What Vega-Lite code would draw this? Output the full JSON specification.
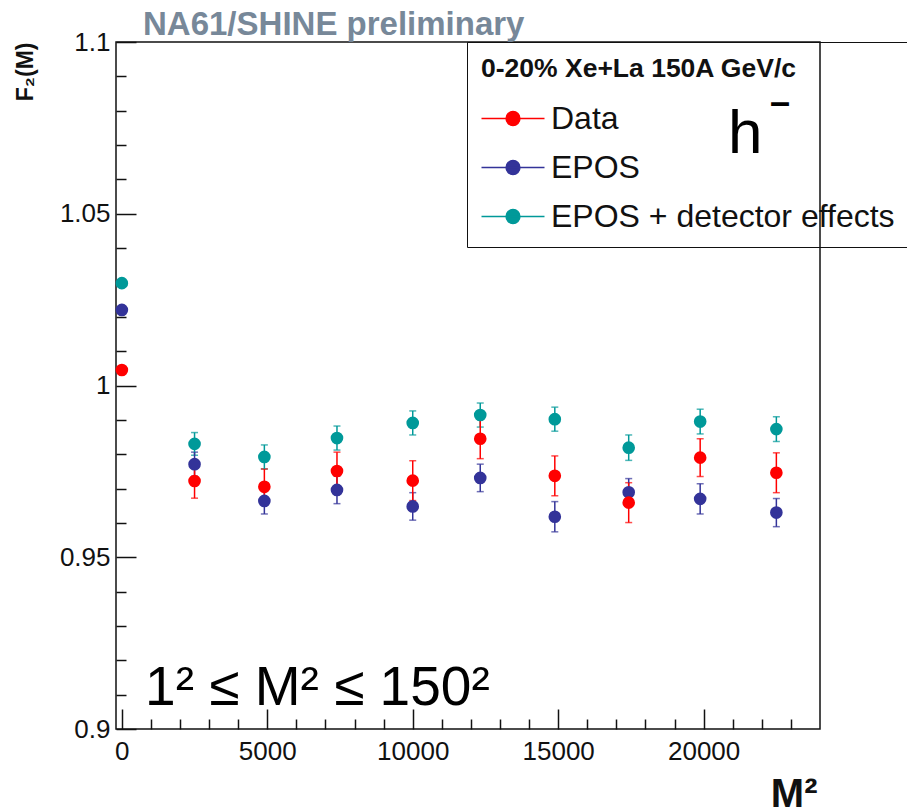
{
  "$schema": "https://vega.github.io/schema/vega-lite/v6.json",
  "width": 704,
  "height": 687,
  "autosize": {"type": "none"},
  "padding": {"left": 116, "top": 42, "right": 87, "bottom": 83},
  "background": "white",
  "title": {
    "text": "NA61/SHINE preliminary",
    "anchor": "start",
    "frame": "group",
    "dx": 27,
    "offset": -39,
    "baseline": "alphabetic",
    "font": "Liberation Sans",
    "fontSize": 33,
    "fontWeight": "bold",
    "color": "#778899"
  },
  "config": {
    "font": "Liberation Sans",
    "view": {"stroke": "#111111", "strokeWidth": 1.5},
    "axis": {
      "grid": false,
      "domain": false,
      "tickColor": "#111111",
      "tickWidth": 1.5,
      "labelColor": "#111111",
      "labelFlush": false,
      "labelOverlap": false,
      "labelBound": false
    }
  },
  "datasets": {
    "pts": [
      {"series": "EPOS + detector effects", "M2": 1, "F2": 1.0298, "err": 0},
      {"series": "EPOS + detector effects", "M2": 2500, "F2": 0.983, "err": 0.0033},
      {"series": "EPOS + detector effects", "M2": 4900, "F2": 0.9792, "err": 0.0035},
      {"series": "EPOS + detector effects", "M2": 7396, "F2": 0.9847, "err": 0.0035},
      {"series": "EPOS + detector effects", "M2": 10000, "F2": 0.9891, "err": 0.0035},
      {"series": "EPOS + detector effects", "M2": 12321, "F2": 0.9914, "err": 0.0035},
      {"series": "EPOS + detector effects", "M2": 14884, "F2": 0.9902, "err": 0.0035},
      {"series": "EPOS + detector effects", "M2": 17424, "F2": 0.9819, "err": 0.0037},
      {"series": "EPOS + detector effects", "M2": 19881, "F2": 0.9895, "err": 0.0036},
      {"series": "EPOS + detector effects", "M2": 22500, "F2": 0.9873, "err": 0.0036},
      {"series": "EPOS", "M2": 1, "F2": 1.022, "err": 0},
      {"series": "EPOS", "M2": 2500, "F2": 0.9771, "err": 0.0035},
      {"series": "EPOS", "M2": 4900, "F2": 0.9664, "err": 0.0038},
      {"series": "EPOS", "M2": 7396, "F2": 0.9696, "err": 0.004},
      {"series": "EPOS", "M2": 10000, "F2": 0.9648, "err": 0.004},
      {"series": "EPOS", "M2": 12321, "F2": 0.9731, "err": 0.004},
      {"series": "EPOS", "M2": 14884, "F2": 0.9618, "err": 0.0044},
      {"series": "EPOS", "M2": 17424, "F2": 0.9689, "err": 0.004},
      {"series": "EPOS", "M2": 19881, "F2": 0.967, "err": 0.0044},
      {"series": "EPOS", "M2": 22500, "F2": 0.963, "err": 0.0041},
      {"series": "Data", "M2": 1, "F2": 1.0045, "err": 0},
      {"series": "Data", "M2": 2500, "F2": 0.9722, "err": 0.005},
      {"series": "Data", "M2": 4900, "F2": 0.9705, "err": 0.0052},
      {"series": "Data", "M2": 7396, "F2": 0.9751, "err": 0.0055},
      {"series": "Data", "M2": 10000, "F2": 0.9723, "err": 0.0058},
      {"series": "Data", "M2": 12321, "F2": 0.9845, "err": 0.0058},
      {"series": "Data", "M2": 14884, "F2": 0.9737, "err": 0.0058},
      {"series": "Data", "M2": 17424, "F2": 0.9659, "err": 0.0058},
      {"series": "Data", "M2": 19881, "F2": 0.979, "err": 0.0055},
      {"series": "Data", "M2": 22500, "F2": 0.9746, "err": 0.0058}
    ]
  },
  "layer": [
    {
      "data": {"name": "pts"},
      "mark": {"type": "errorbar", "ticks": {"size": 7, "thickness": 1.5}, "thickness": 1.5},
      "encoding": {
        "x": {
          "field": "M2", "type": "quantitative",
          "scale": {"domain": [-200, 24000], "nice": false, "zero": false},
          "axis": {
            "orient": "bottom",
            "values": [1000, 2000, 3000, 4000, 6000, 7000, 8000, 9000, 11000, 12000, 13000, 14000, 16000, 17000, 18000, 19000, 21000, 22000, 23000],
            "labels": false,
            "tickSize": -10,
            "title": null
          }
        },
        "y": {
          "field": "F2", "type": "quantitative",
          "scale": {"domain": [0.9, 1.1], "nice": false, "zero": false},
          "axis": {
            "orient": "left",
            "values": [0.91, 0.92, 0.93, 0.94, 0.96, 0.97, 0.98, 0.99, 1.01, 1.02, 1.03, 1.04, 1.06, 1.07, 1.08, 1.09],
            "labels": false,
            "tickSize": -10,
            "title": null
          }
        },
        "yError": {"field": "err"},
        "color": {
          "field": "series", "type": "nominal",
          "scale": {"domain": ["Data", "EPOS", "EPOS + detector effects"], "range": ["#ff0000", "#333399", "#009999"]}
        }
      }
    },
    {
      "data": {"name": "pts"},
      "mark": {"type": "point", "filled": true, "size": 160, "opacity": 1, "shape": "circle"},
      "encoding": {
        "x": {
          "field": "M2", "type": "quantitative",
          "axis": {
            "orient": "bottom",
            "values": [0, 5000, 10000, 15000, 20000],
            "format": "d",
            "tickSize": -20,
            "labelPadding": 29,
            "labelFontSize": 26,
            "title": "M²",
            "titleFontSize": 40,
            "titleFontWeight": "bold",
            "titleColor": "#111111",
            "titleAlign": "right",
            "titleAnchor": "end",
            "titleBaseline": "alphabetic",
            "titleX": 701,
            "titleY": 77
          }
        },
        "y": {
          "field": "F2", "type": "quantitative",
          "axis": {
            "orient": "left",
            "values": [0.9, 0.95, 1, 1.05, 1.1],
            "format": "~g",
            "tickSize": -20,
            "labelPadding": 26,
            "labelFontSize": 26,
            "title": "F₂(M)",
            "titleFontSize": 23,
            "titleFontWeight": "bold",
            "titleColor": "#111111",
            "titleAngle": -90,
            "titleAlign": "right",
            "titleAnchor": "end",
            "titleBaseline": "middle",
            "titleX": -91,
            "titleY": 0
          }
        },
        "color": {
          "field": "series", "type": "nominal",
          "legend": {
            "orient": "none",
            "legendX": 351,
            "legendY": 0,
            "title": "0-20% Xe+La 150A GeV/c",
            "titleFont": "Liberation Sans",
            "titleFontSize": 26.5,
            "titleFontWeight": "bold",
            "titleColor": "#111111",
            "titleLimit": 600,
            "titlePadding": 20,
            "labelFont": "Liberation Sans",
            "labelFontSize": 32,
            "labelColor": "#111111",
            "labelLimit": 600,
            "labelOffset": 22,
            "symbolType": "M-4.5,0H4.5M1,0A1,1,0,1,1,-1,0A1,1,0,1,1,1,0Z",
            "symbolSize": 196,
            "symbolOffset": 16,
            "symbolStrokeWidth": 1.3,
            "symbolOpacity": 1,
            "rowPadding": 17,
            "padding": 14,
            "strokeColor": "#111111",
            "encode": {
              "symbols": {
                "update": {
                  "fill": {"scale": "color", "field": "value"},
                  "stroke": {"scale": "color", "field": "value"},
                  "opacity": {"value": 1},
                  "fillOpacity": {"value": 1},
                  "strokeOpacity": {"value": 1}
                }
              }
            }
          }
        }
      }
    },
    {
      "data": {"values": [{}]},
      "mark": {"type": "text", "text": "1² ≤ M² ≤ 150²", "align": "left", "baseline": "alphabetic", "fontSize": 55, "font": "Liberation Sans", "color": "#000000"},
      "encoding": {
        "x": {"datum": 800, "type": "quantitative", "axis": null},
        "y": {"datum": 0.907, "type": "quantitative", "axis": null}
      }
    },
    {
      "data": {"values": [{}]},
      "mark": {"type": "text", "text": "h", "align": "left", "baseline": "alphabetic", "fontSize": 62, "font": "Liberation Sans", "color": "#000000"},
      "encoding": {
        "x": {"datum": 20837, "type": "quantitative", "axis": null},
        "y": {"datum": 1.0677, "type": "quantitative", "axis": null}
      }
    },
    {
      "data": {"values": [{}]},
      "mark": {"type": "text", "text": "–", "align": "center", "baseline": "alphabetic", "fontSize": 36, "fontWeight": "bold", "font": "Liberation Sans", "color": "#000000"},
      "encoding": {
        "x": {"datum": 22625, "type": "quantitative", "axis": null},
        "y": {"datum": 1.079, "type": "quantitative", "axis": null}
      }
    }
  ],
  "resolve": {"axis": {"x": "independent", "y": "independent"}}
}
